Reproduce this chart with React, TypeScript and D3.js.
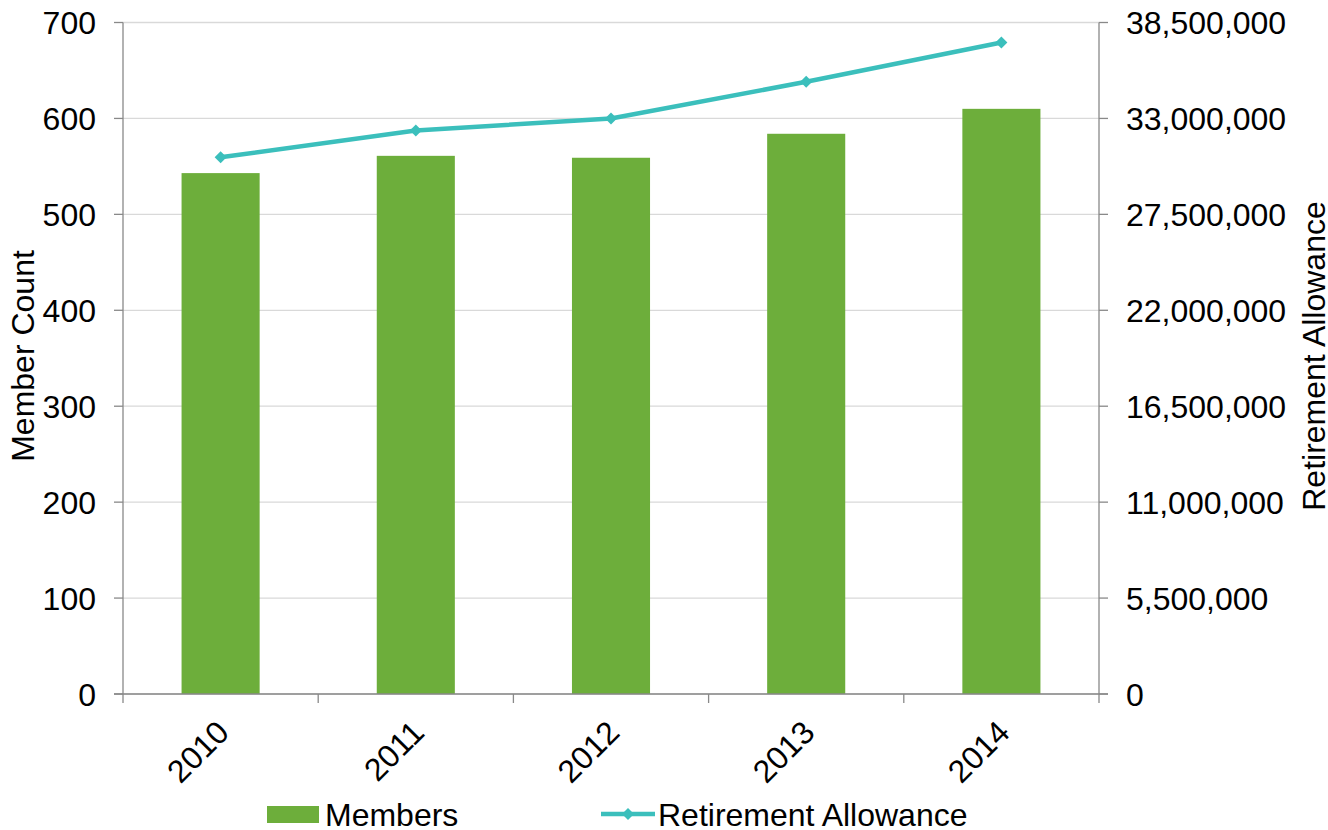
import React from "react";
import * as d3 from "d3";

const years = ["2010", "2011", "2012", "2013", "2014"];
const members = [543, 561, 559, 584, 610];
const allowance = [30770000, 32310000, 33000000, 35100000, 37350000];
const leftTicks = [0, 100, 200, 300, 400, 500, 600, 700];
const rightTicks = [0, 5500000, 11000000, 16500000, 22000000, 27500000, 33000000, 38500000];

const W = 1328, H = 830;
const M = { left: 123, right: 1099, top: 22.5, bottom: 694 };
const GREEN = "#6dae3b";
const TEAL = "#3bbfbc";
const AXIS = "#898989";
const GRID = "#d9d9d9";
const FONT = "'Liberation Sans', Arial, sans-serif";
const FS = 32;

export default function App() {
  const x = d3.scaleBand<string>().domain(years).range([M.left, M.right]).paddingInner(0).paddingOuter(0);
  const yL = d3.scaleLinear().domain([0, 700]).range([M.bottom, M.top]);
  const yR = d3.scaleLinear().domain([0, 38500000]).range([M.bottom, M.top]);
  const bw = x.bandwidth() * 0.4;
  const fmt = d3.format(",");
  const line = d3
    .line<number>()
    .x((_, i) => x(years[i])! + x.bandwidth() / 2)
    .y((d) => yR(d));
  const diamond = (cx: number, cy: number, r: number) =>
    `M${cx},${cy - r}L${cx + r},${cy}L${cx},${cy + r}L${cx - r},${cy}Z`;

  return (
    <svg width={W} height={H} style={{ position: "absolute", left: 0, top: 0, background: "#fff" }} fontFamily={FONT}>
      {leftTicks.map((t) => (
        <line key={"g" + t} x1={M.left} x2={M.right} y1={yL(t)} y2={yL(t)} stroke={GRID} strokeWidth={1.3} />
      ))}
      {members.map((v, i) => (
        <rect
          key={"b" + i}
          x={x(years[i])! + x.bandwidth() / 2 - bw / 2}
          y={yL(v)}
          width={bw}
          height={yL(0) - yL(v)}
          fill={GREEN}
        />
      ))}
      {/* axes */}
      <line x1={M.left} x2={M.left} y1={M.top} y2={M.bottom} stroke={AXIS} strokeWidth={1.3} />
      <line x1={M.right} x2={M.right} y1={M.top} y2={M.bottom} stroke={AXIS} strokeWidth={1.3} />
      <line x1={M.left - 9} x2={M.right + 9} y1={M.bottom} y2={M.bottom} stroke={AXIS} strokeWidth={1.3} />
      {leftTicks.map((t) => (
        <g key={"l" + t}>
          <line x1={M.left - 9} x2={M.left} y1={yL(t)} y2={yL(t)} stroke={AXIS} strokeWidth={1.3} />
          <text x={M.left - 27} y={yL(t)} dy="0.36em" textAnchor="end" fontSize={FS} fill="#000">
            {t}
          </text>
        </g>
      ))}
      {rightTicks.map((t) => (
        <g key={"r" + t}>
          <line x1={M.right} x2={M.right + 9} y1={yR(t)} y2={yR(t)} stroke={AXIS} strokeWidth={1.3} />
          <text x={M.right + 27} y={yR(t)} dy="0.36em" textAnchor="start" fontSize={FS} fill="#000">
            {fmt(t)}
          </text>
        </g>
      ))}
      {years.map((y, i) => (
        <line
          key={"xt" + i}
          x1={x(y)!}
          x2={x(y)!}
          y1={M.bottom}
          y2={M.bottom + 9}
          stroke={AXIS}
          strokeWidth={1.3}
        />
      ))}
      <line x1={M.right} x2={M.right} y1={M.bottom} y2={M.bottom + 9} stroke={AXIS} strokeWidth={1.3} />
      {years.map((y) => {
        const cx = x(y)! + x.bandwidth() / 2;
        return (
          <text
            key={"xl" + y}
            transform={`translate(${cx - 6},${M.bottom + 24}) rotate(-45)`}
            textAnchor="end"
            dy="0.72em"
            fontSize={FS}
            fill="#000"
          >
            {y}
          </text>
        );
      })}
      {/* line */}
      <path d={line(allowance)!} fill="none" stroke={TEAL} strokeWidth={4.5} strokeLinejoin="round" />
      {allowance.map((v, i) => (
        <path key={"m" + i} d={diamond(x(years[i])! + x.bandwidth() / 2, yR(v), 6)} fill={TEAL} />
      ))}
      {/* axis titles */}
      <text transform={`translate(34,356) rotate(-90)`} textAnchor="middle" fontSize={FS} fill="#000">
        Member Count
      </text>
      <text transform={`translate(1325,356) rotate(-90)`} textAnchor="middle" fontSize={FS} fill="#000">
        Retirement Allowance
      </text>
      {/* legend */}
      <rect x={267} y={806} width={52} height={17} fill={GREEN} />
      <text x={325} y={826} fontSize={FS} fill="#000">
        Members
      </text>
      <line x1={601} x2={655} y1={814} y2={814} stroke={TEAL} strokeWidth={4.5} />
      <path d={diamond(628, 814, 6)} fill={TEAL} />
      <text x={658} y={826} fontSize={FS} fill="#000">
        Retirement Allowance
      </text>
    </svg>
  );
}
